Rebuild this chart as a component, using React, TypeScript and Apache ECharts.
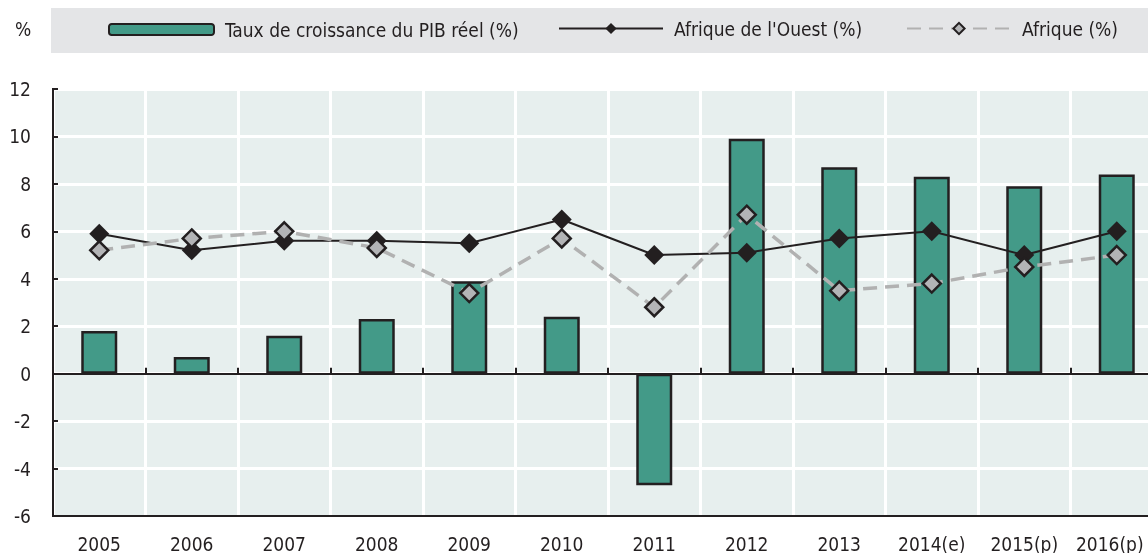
import React, { useEffect, useRef } from "react";
import * as echarts from "echarts";

const categories = ["2005", "2006", "2007", "2008", "2009", "2010", "2011", "2012", "2013", "2014(e)", "2015(p)", "2016(p)"];
const gdpGrowth = [1.8, 0.7, 1.6, 2.3, 3.9, 2.4, -4.7, 9.9, 8.7, 8.3, 7.9, 8.4];
const westAfrica = [5.9, 5.2, 5.6, 5.6, 5.5, 6.5, 5.0, 5.1, 5.7, 6.0, 5.0, 6.0];
const africa = [5.2, 5.7, 6.0, 5.3, 3.4, 5.7, 2.8, 6.7, 3.5, 3.8, 4.5, 5.0];
const seriesNames = ["Taux de croissance du PIB réel (%)", "Afrique de l'Ouest (%)", "Afrique (%)"];

const FONT = "'Liberation Sans Narrow', 'DejaVu Sans Condensed', 'Arial Narrow', sans-serif";
const FS = 19;
const DARK = "#231f20";
const TEXT = "#231f20";

export default function App() {
  const ref = useRef<HTMLDivElement>(null);
  useEffect(() => {
    if (!ref.current) return;
    const chart = echarts.init(ref.current, null, { renderer: "svg" });
    const legendBase = {
      top: 19,
      padding: 0,
      itemHeight: 14,
      itemWidth: 104,
      selectedMode: false,
      textStyle: { fontFamily: FONT, fontSize: FS, color: TEXT, padding: [0, 0, 0, 6] },
    };
    const axisData = categories.map((c, i) =>
      i === categories.length - 1 ? { value: c, textStyle: { padding: [0, 14, 0, 0] } } : c
    );
    chart.setOption({
      animation: false,
      textStyle: { fontFamily: FONT },
      graphic: [
        { type: "rect", left: 51, top: 8, shape: { width: 1112, height: 45 }, style: { fill: "#e4e5e7" }, z: -1 },
        { type: "text", left: 15, top: 19, style: { text: "%", font: `${FS}px ${FONT}`, fill: TEXT } },
      ],
      legend: [
        { ...legendBase, left: 108, itemWidth: 105, itemHeight: 11, top: 20, data: [seriesNames[0]] },
        { ...legendBase, left: 558, data: [seriesNames[1]] },
        { ...legendBase, left: 906, data: [seriesNames[2]] },
      ],
      grid: {
        left: 53,
        top: 89,
        right: 0,
        bottom: 37,
        show: true,
        backgroundColor: "#e7efee",
        borderColor: DARK,
        borderWidth: 2,
        containLabel: false,
      },
      xAxis: [
        {
          type: "category",
          data: axisData,
          position: "bottom",
          axisLine: { show: true, onZero: false, lineStyle: { color: DARK, width: 2 } },
          axisTick: { show: false },
          axisLabel: { fontFamily: FONT, fontSize: FS, color: TEXT, margin: 18, interval: 0 },
          splitLine: { show: true, interval: 0, lineStyle: { color: "#ffffff", width: 3 } },
        },
        {
          type: "category",
          data: categories,
          position: "bottom",
          axisLine: { show: true, onZero: true, onZeroAxisIndex: 0, lineStyle: { color: DARK, width: 2 } },
          axisTick: { show: true, inside: true, length: 6, interval: 0, lineStyle: { color: DARK, width: 2 } },
          axisLabel: { show: false },
          splitLine: { show: false },
        },
      ],
      yAxis: {
        type: "value",
        min: -6,
        max: 12,
        interval: 2,
        axisLine: { show: true, lineStyle: { color: DARK, width: 2 } },
        axisTick: { show: true, inside: true, length: 5, lineStyle: { color: DARK, width: 2 } },
        axisLabel: { fontFamily: FONT, fontSize: FS, color: TEXT, margin: 22 },
        splitLine: { show: true, lineStyle: { color: "#ffffff", width: 3 } },
      },
      series: [
        {
          name: seriesNames[0],
          type: "bar",
          data: gdpGrowth,
          barWidth: 36,
          itemStyle: { color: "#439a88", borderColor: DARK, borderWidth: 2.5 },
        },
        {
          name: seriesNames[1],
          type: "line",
          data: westAfrica,
          symbol: "diamond",
          symbolSize: 20,
          lineStyle: { color: DARK, width: 2 },
          itemStyle: { color: DARK, borderColor: DARK, borderWidth: 0 },
          z: 3,
        },
        {
          name: seriesNames[2],
          type: "line",
          data: africa,
          symbol: "diamond",
          symbolSize: 18,
          lineStyle: { color: "#b1b1b1", width: 3.5, type: [14, 8] },
          itemStyle: { color: "#b3b4b6", borderColor: DARK, borderWidth: 2.5 },
          z: 4,
        },
      ],
    });
    return () => chart.dispose();
  }, []);
  return <div ref={ref} style={{ position: "fixed", left: 0, top: 0, width: 1163, height: 553 }} />;
}
